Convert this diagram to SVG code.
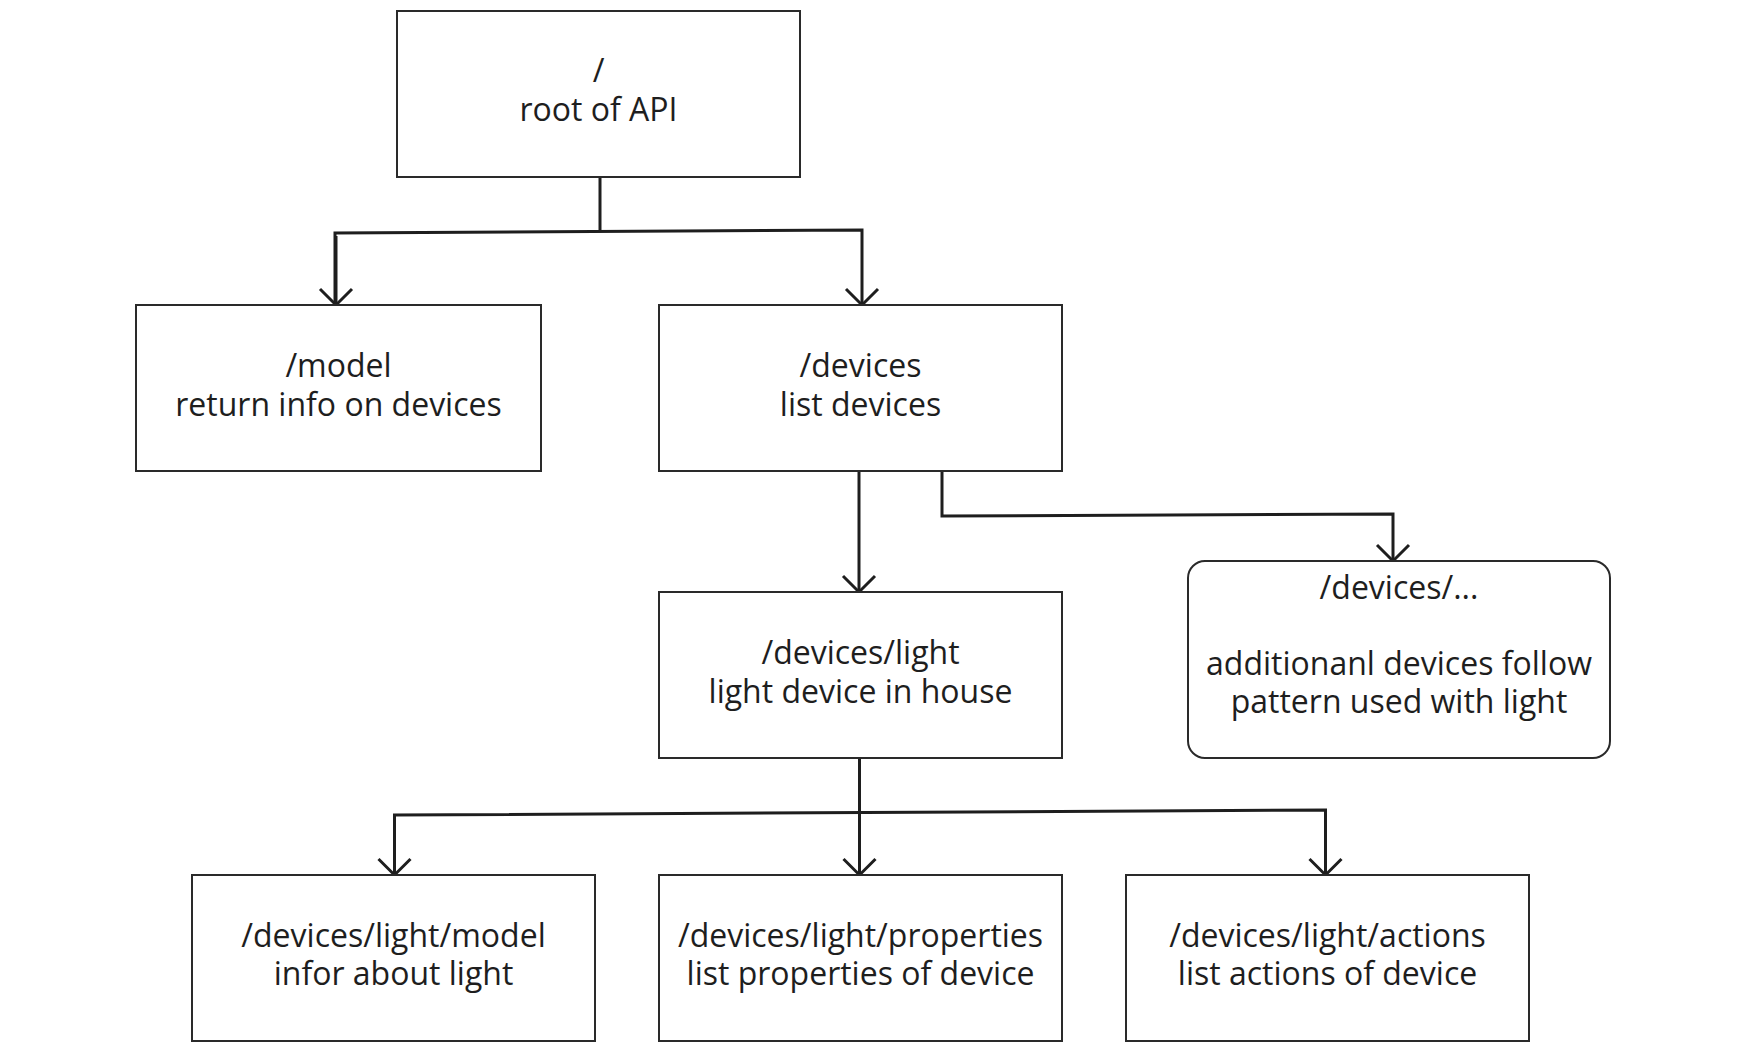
<svg xmlns="http://www.w3.org/2000/svg" width="1747" height="1053" viewBox="0 0 1747 1053">
<style>
.box{fill:#fff;stroke:#2a2a2a;stroke-width:2}
.t{font-family:"Open Sans","Noto Sans",sans-serif;font-size:32px;fill:#1e1e1e;text-anchor:middle}
.c{fill:none;stroke:#1e1e1e;stroke-width:3;stroke-linejoin:miter}
</style>
<defs>
<marker id="ah" markerUnits="userSpaceOnUse" markerWidth="40" markerHeight="40" viewBox="-20 -20 40 40" refX="0" refY="0" orient="auto">
<path d="M-16,-16 L0,0 L-16,16" fill="none" stroke="#1e1e1e" stroke-width="3"/>
</marker>
</defs>
<rect width="1747" height="1053" fill="#fff"/>
<g id="connectors">
<path class="c" d="M600,177 V232"/>
<path class="c" d="M335,305 V233 L862,230 V305" marker-end="url(#ah)"/>
<path class="c" d="M336,236 V305" marker-end="url(#ah)"/>
<path class="c" d="M859,471 V592" marker-end="url(#ah)"/>
<path class="c" d="M942,471 V516 L1393,514 V561" marker-end="url(#ah)"/>
<path class="c" d="M859.5,758 V812"/>
<path class="c" d="M394.5,875 V815 L1325.5,810 V875" marker-end="url(#ah)"/>
<path class="c" d="M394.5,820 V875" marker-end="url(#ah)"/>
<path class="c" d="M859.5,805 V875" marker-end="url(#ah)"/>
</g>
<g id="root">
<rect class="box" x="397" y="11" width="403" height="166"/>
<text class="t" x="598.5" y="82">/</text>
<text class="t" x="598.5" y="121">root of API</text>
</g>
<g id="model">
<rect class="box" x="136" y="305" width="405" height="166"/>
<text class="t" x="338.5" y="377">/model</text>
<text class="t" x="338.5" y="416">return info on devices</text>
</g>
<g id="devices">
<rect class="box" x="659" y="305" width="403" height="166"/>
<text class="t" x="860.5" y="377">/devices</text>
<text class="t" x="860.5" y="416">list devices</text>
</g>
<g id="light">
<rect class="box" x="659" y="592" width="403" height="166"/>
<text class="t" x="860.5" y="664">/devices/light</text>
<text class="t" x="860.5" y="703">light device in house</text>
</g>
<g id="others">
<rect class="box" x="1188" y="561" width="422" height="197" rx="17" ry="17"/>
<text class="t" x="1399" y="599">/devices/...</text>
<text class="t" x="1399" y="675">additionanl devices follow</text>
<text class="t" x="1399" y="713">pattern used with light</text>
</g>
<g id="light-model">
<rect class="box" x="192" y="875" width="403" height="166"/>
<text class="t" x="393.5" y="947">/devices/light/model</text>
<text class="t" x="393.5" y="985">infor about light</text>
</g>
<g id="light-properties">
<rect class="box" x="659" y="875" width="403" height="166"/>
<text class="t" x="860.5" y="947">/devices/light/properties</text>
<text class="t" x="860.5" y="985">list properties of device</text>
</g>
<g id="light-actions">
<rect class="box" x="1126" y="875" width="403" height="166"/>
<text class="t" x="1327.5" y="947">/devices/light/actions</text>
<text class="t" x="1327.5" y="985">list actions of device</text>
</g>
</svg>
